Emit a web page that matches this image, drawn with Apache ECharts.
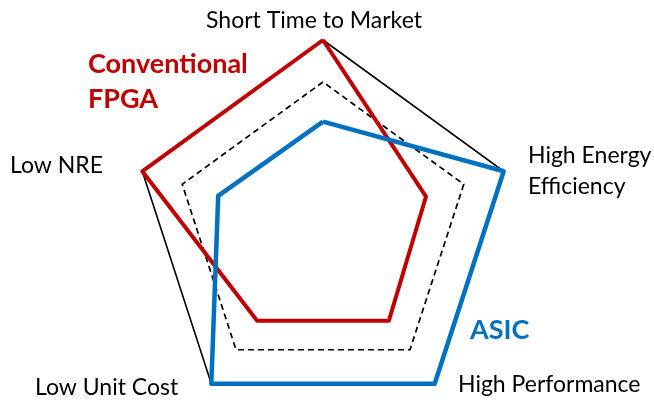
<!DOCTYPE html>
<html>
<head>
<meta charset="utf-8">
<script src="https://cdn.jsdelivr.net/npm/echarts@6/dist/echarts.min.js"></script>
<style>
  html, body { margin: 0; padding: 0; background: #fff; }
  #main { width: 654px; height: 403px; }
</style>
</head>
<body>
<div id="main"></div>
<script>
// indicators, counter-clockwise from the top
var indicatorNames = ['Short Time to Market', 'Low NRE', 'Low Unit Cost', 'High Performance', 'High Energy Efficiency'];
var fpgaValues = [1, 1, 0.59, 0.59, 0.57];
var asicValues = [0.57, 0.58, 1, 1, 1];

var myChart = echarts.init(document.getElementById('main'));
var font = 'Lato, "Open Sans", sans-serif';

function label(text, x, y, align, size, color, weight) {
    return {
        type: 'text',
        x: x, y: y,
        style: {
            text: text,
            font: (weight || 'normal') + ' ' + size + 'px ' + font,
            fill: color || '#000',
            textAlign: align,
            textVerticalAlign: 'middle'
        }
    };
}

var indicator = indicatorNames.map(function (n) { return { name: n, min: 0, max: 1 }; });

option = {
    backgroundColor: '#fff',
    animation: false,
    radar: [
        {
            center: [323, 230],
            radius: 190,
            indicator: indicator,
            splitNumber: 1,
            axisName: { show: false },
            axisLine: { show: false },
            axisTick: { show: false },
            splitArea: { show: false },
            splitLine: { lineStyle: { color: '#000', width: 1.6 } }
        },
        {
            center: [323, 230],
            radius: 148,
            indicator: indicator,
            splitNumber: 1,
            axisName: { show: false },
            axisLine: { show: false },
            axisTick: { show: false },
            splitArea: { show: false },
            splitLine: { lineStyle: { color: '#000', width: 1.7, type: [6, 4] } }
        }
    ],
    series: [
        {
            name: 'Conventional FPGA',
            type: 'radar',
            radarIndex: 0,
            symbol: 'none',
            lineStyle: { color: '#C00000', width: 4 },
            z: 3,
            data: [{ value: fpgaValues }]
        },
        {
            name: 'ASIC',
            type: 'radar',
            radarIndex: 0,
            symbol: 'none',
            lineStyle: { color: '#0070C0', width: 4.5 },
            z: 4,
            data: [{ value: asicValues }]
        }
    ],
    graphic: [
        label(indicatorNames[0], 314, 21, 'center', 23),
        label('High Energy', 528, 156, 'left', 23),
        label('Efficiency', 528, 187, 'left', 23),
        label(indicatorNames[1], 10, 166, 'left', 23),
        label(indicatorNames[2], 35, 388, 'left', 23),
        label(indicatorNames[3], 458, 385, 'left', 23),
        label('Conventional', 88, 64, 'left', 27, '#C00000', 'bold'),
        label('FPGA', 88, 99, 'left', 27, '#C00000', 'bold'),
        label('ASIC', 470, 330, 'left', 27, '#0070C0', 'bold')
    ]
};

myChart.setOption(option);
</script>
</body>
</html>
